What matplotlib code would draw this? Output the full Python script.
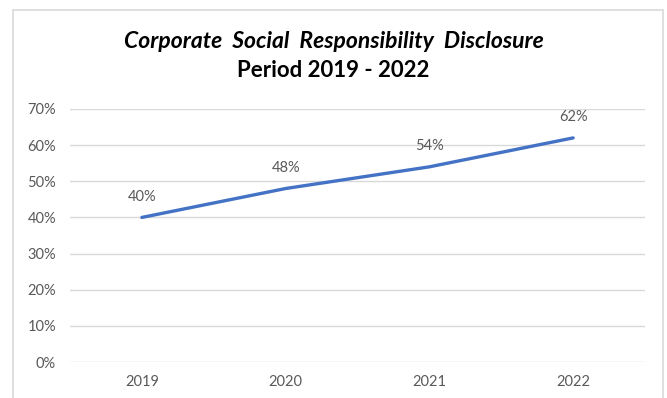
import matplotlib.pyplot as plt
from matplotlib.patches import Rectangle
from matplotlib.ticker import PercentFormatter

plt.rcParams['font.family'] = ['Lato', 'DejaVu Sans']

years = ['2019', '2020', '2021', '2022']
disclosure = [0.40, 0.48, 0.54, 0.62]
y_ticks = [0.0, 0.1, 0.2, 0.3, 0.4, 0.5, 0.6, 0.7]

fig = plt.figure(figsize=(6.67, 3.98), dpi=100)
fig.patches.append(Rectangle((13 / 667, -0.05), 650 / 667, 1.05 - 10 / 398,
                             transform=fig.transFigure, fill=False,
                             edgecolor='#d9d9d9', linewidth=1.2))

ax = fig.add_axes([70 / 667, 36 / 398, 575 / 667, 253 / 398])
x = range(len(years))
ax.plot(x, disclosure, color='#4472c4', linewidth=2.4, solid_capstyle='round')
for xi, v in zip(x, disclosure):
    ax.annotate(f'{v:.0%}', (xi, v), xytext=(0, 10), textcoords='offset points',
                ha='center', va='bottom', fontsize=10.5, color='#595959')

ax.set_xlim(-0.5, len(years) - 0.5)
ax.set_ylim(0, 0.7)
ax.set_yticks(y_ticks)
ax.yaxis.set_major_formatter(PercentFormatter(1.0, decimals=0))
ax.set_xticks(list(x))
ax.set_xticklabels(years)
ax.grid(axis='y', color='#d9d9d9', linewidth=1)
ax.set_axisbelow(True)
for s in ax.spines.values():
    s.set_visible(False)
ax.tick_params(length=0, labelsize=10.5, labelcolor='#595959')
ax.tick_params(axis='y', pad=10)
ax.tick_params(axis='x', pad=9)

fig.text(0.5, 1 - 48 / 398, 'Corporate  Social  Responsibility  Disclosure',
         ha='center', va='baseline', fontsize=16.5, fontweight='bold', style='italic')
fig.text(0.5, 1 - 77 / 398, 'Period 2019 - 2022',
         ha='center', va='baseline', fontsize=16, fontweight='bold')

fig.savefig('out.png', dpi=100)
